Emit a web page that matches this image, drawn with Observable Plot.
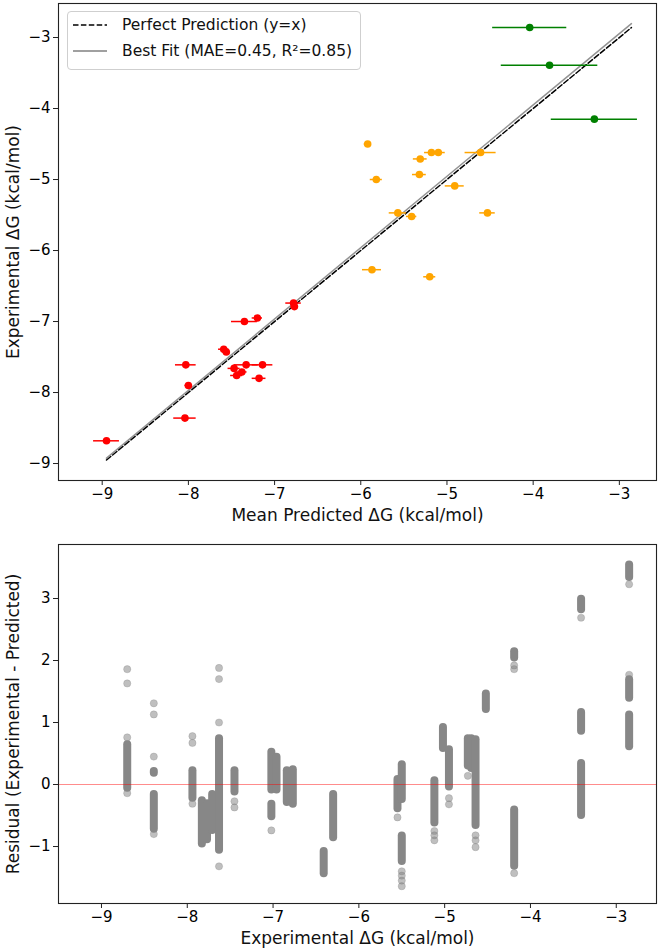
<!DOCTYPE html>
<html><head><meta charset="utf-8">
<script src="https://cdn.jsdelivr.net/npm/d3@7"></script>
<script src="https://cdn.jsdelivr.net/npm/@observablehq/plot@0.6"></script>
<style>
body{margin:0;background:#fff;font-family:"DejaVu Sans",sans-serif;}
#wrap{position:relative;width:661px;height:952px;}
svg{display:block}
#legend{position:absolute;left:67px;top:11px;border:1px solid #cfcfcf;border-radius:4px;background:rgba(255,255,255,0.85);padding:0 8px 5px 5px;font-size:15.5px;color:#111;}
#legend .row{display:flex;align-items:center;height:26px;white-space:nowrap;}
#legend svg{margin-right:15px;}
</style></head><body>
<div id="wrap">
<div id="top"></div>
<div id="bottom"></div>
<div id="legend">
 <div class="row"><svg width="34" height="10"><line x1="0" y1="5" x2="34" y2="5" stroke="#000" stroke-width="1.5" stroke-dasharray="5.5,2.4"/></svg><span>Perfect Prediction (y=x)</span></div>
 <div class="row"><svg width="34" height="10"><line x1="0" y1="5" x2="34" y2="5" stroke="#808080" stroke-width="1.5"/></svg><span>Best Fit (MAE=0.45, R²=0.85)</span></div>
</div>
</div>
<script>
// ---------- Top panel data (mean predicted vs experimental) ----------
const redPred = [-8.95,-8.04,-8.00,-8.03,-7.59,-7.56,-7.35,-7.20,-6.78,-6.77,-7.33,-7.14,-7.47,-7.38,-7.44,-7.18];
const redExp  = [-8.68,-8.36,-7.90,-7.61,-7.39,-7.43,-7.00,-6.95,-6.74,-6.79,-7.61,-7.61,-7.66,-7.71,-7.76,-7.80];
const redErr  = [0.15,0.13,0.04,0.12,0.06,0.04,0.15,0.06,0.09,0.04,0.14,0.12,0.07,0.06,0.07,0.08];

const orangePred = [-5.92,-5.82,-5.31,-5.18,-5.10,-5.32,-4.61,-4.91,-5.57,-5.41,-4.53,-5.87,-5.20];
const orangeExp  = [-4.50,-5.00,-4.71,-4.62,-4.62,-4.93,-4.62,-5.09,-5.47,-5.52,-5.47,-6.27,-6.37];
const orangeErr  = [0.04,0.07,0.08,0.08,0.08,0.08,0.18,0.11,0.10,0.06,0.09,0.11,0.07];

const greenPred = [-4.04,-3.81,-3.29];
const greenExp  = [-2.86,-3.39,-4.15];
const greenErr  = [0.43,0.56,0.50];

const fitSlope = 1.005;
const fitIntercept = 0.07;

const topTicksX = [-9,-8,-7,-6,-5,-4,-3];
const topTicksY = [-9,-8,-7,-6,-5,-4,-3];

// ---------- Bottom panel data (residuals per experimental value) ----------
const resStripX  = [-8.70,-8.39,-8.39,-7.94,-7.83,-7.77,-7.71,-7.63,-7.45,-7.02,-7.02,-6.96,-6.84,-6.77,-6.41,-6.30,-5.55,-5.50,-5.50,-5.12,-5.02,-4.95,-4.73,-4.69,-4.64,-4.52,-4.19,-4.19,-3.41,-3.41,-3.41,-2.85,-2.85,-2.85];
const resStripLo = [-0.06, 0.18,-0.72,-0.22,-0.96,-0.89,-0.74,-1.06,-0.12,-0.09,-0.52,-0.09,-0.29,-0.32,-1.44,-0.86,-0.39,-0.24,-1.24,-0.62, 0.58,-0.04, 0.30, 0.26,-0.66, 1.21,-1.32, 2.04, 2.82, 0.86,-0.50, 3.34, 1.39, 0.61];
const resStripHi = [ 0.64, 0.21,-0.16, 0.22,-0.26,-0.31,-0.16, 0.74, 0.22, 0.52,-0.32, 0.44, 0.22, 0.24,-1.08,-0.16, 0.08, 0.32,-0.83, 0.06, 0.92, 0.56, 0.74, 0.74, 0.72, 1.46,-0.41, 2.14, 2.99, 1.16, 0.34, 3.54, 1.69, 1.12];

const resDotX = [-8.70,-8.70,-8.70,-8.70,-8.39,-8.39,-8.39,-8.39,-7.94,-7.94,-7.94,-7.63,-7.63,-7.63,-7.63,-7.45,-7.45,-7.02,-5.55,-5.50,-5.50,-5.50,-5.50,-5.12,-5.12,-5.12,-4.95,-4.95,-4.73,-4.64,-4.64,-4.64,-4.19,-4.19,-4.19,-3.41,-2.85,-2.85];
const resDotY = [1.86,1.63,0.76,-0.14,1.31,1.13,0.45,-0.80,0.78,0.67,-0.31,1.88,1.70,1.00,-1.32,-0.27,-0.37,-0.74,-0.53,-1.40,-1.47,-1.55,-1.64,-0.75,-0.82,-0.90,-0.22,-0.32,0.14,-0.82,-0.90,-1.01,1.86,1.92,-1.43,2.69,3.23,1.77];

const resTicksX = [-9,-8,-7,-6,-5,-4,-3];
const resTicksY = [-1,0,1,2,3];

// ---------- Build tables ----------
function group(pred, exp, err, color) {
  return pred.map((p, i) => ({pred: p, exp: exp[i], err: err[i], color}));
}
const points = [
  ...group(redPred, redExp, redErr, "#ff0000"),
  ...group(orangePred, orangeExp, orangeErr, "#ffa500"),
  ...group(greenPred, greenExp, greenErr, "#008000")
];
const allVals = [...redPred, ...redExp, ...orangePred, ...orangeExp, ...greenPred, ...greenExp];
const ext = d3.extent(allVals);
const perfectLine = ext.map(v => ({x: v, y: v}));
const fitLine = ext.map(v => ({x: v, y: fitSlope * v + fitIntercept}));

const strips = resStripX.map((x, i) => ({x, lo: resStripLo[i], hi: resStripHi[i]}));
const dots = resDotX.map((x, i) => ({x, y: resDotY[i]}));

const fmt = d3.format("d");
const FONT = "DejaVu Sans";

const topPlot = Plot.plot({
  width: 661, height: 530,
  marginTop: 3, marginRight: 5, marginBottom: 50, marginLeft: 58,
  style: {fontFamily: FONT, fontSize: "15px", color: "#000", background: "#fff", overflow: "visible"},
  color: {type: "identity"},
  x: {domain: [-9.507, -2.569]},
  y: {domain: [-9.239, -2.521]},
  marks: [
    Plot.axisX({ticks: topTicksX, tickFormat: fmt, tickSize: 5, tickPadding: 3, fontSize: 15, label: null, stroke: "#222"}),
    Plot.axisY({ticks: topTicksY, tickFormat: fmt, tickSize: 5, tickPadding: 3, fontSize: 15, label: null, stroke: "#222"}),
    Plot.text(["Mean Predicted ΔG (kcal/mol)"], {frameAnchor: "bottom", dy: 28, lineAnchor: "top", textAnchor: "middle", fontSize: 17, fill: "#111"}),
    Plot.text(["Experimental ΔG (kcal/mol)"], {frameAnchor: "left", dx: -40, rotate: -90, lineAnchor: "bottom", textAnchor: "middle", fontSize: 17, fill: "#111"}),
    Plot.line(perfectLine, {x: "x", y: "y", stroke: "#000", strokeWidth: 1.5, strokeDasharray: "5.5,2.4"}),
    Plot.line(fitLine, {x: "x", y: "y", stroke: "#808080", strokeWidth: 1.5, strokeOpacity: 0.85}),
    Plot.ruleY(points, {y: "exp", x1: d => d.pred - d.err, x2: d => d.pred + d.err, stroke: "color", strokeWidth: 1.5}),
    Plot.dot(points, {x: "pred", y: "exp", fill: "color", r: 3.8}),
    Plot.frame({stroke: "#222", strokeWidth: 1.1})
  ]
});

const botPlot = Plot.plot({
  width: 661, height: 422,
  marginTop: 14, marginRight: 5, marginBottom: 49, marginLeft: 58,
  style: {fontFamily: FONT, fontSize: "15px", color: "#000", background: "#fff", overflow: "visible"},
  x: {domain: [-9.501, -2.531]},
  y: {domain: [-1.919, 3.871]},
  marks: [
    Plot.axisX({ticks: resTicksX, tickFormat: fmt, tickSize: 5, tickPadding: 3, fontSize: 15, label: null, stroke: "#222"}),
    Plot.axisY({ticks: resTicksY, tickFormat: fmt, tickSize: 5, tickPadding: 3, fontSize: 15, label: null, stroke: "#222"}),
    Plot.text(["Experimental ΔG (kcal/mol)"], {frameAnchor: "bottom", dy: 28, lineAnchor: "top", textAnchor: "middle", fontSize: 17, fill: "#111"}),
    Plot.text(["Residual (Experimental - Predicted)"], {frameAnchor: "left", dx: -40, rotate: -90, lineAnchor: "bottom", textAnchor: "middle", fontSize: 17, fill: "#111"}),
    Plot.dot(dots, {x: "x", y: "y", r: 3.6, fill: "#808080", fillOpacity: 0.5, stroke: "#808080", strokeOpacity: 0.35, strokeWidth: 0.8}),
    Plot.ruleX(strips, {x: "x", y1: "lo", y2: "hi", stroke: "#878787", strokeWidth: 8, strokeLinecap: "round"}),
    Plot.ruleY([0], {stroke: "#ff0000", strokeOpacity: 0.45, strokeWidth: 1}),
    Plot.frame({stroke: "#222", strokeWidth: 1.1})
  ]
});

document.getElementById("top").append(topPlot);
document.getElementById("bottom").append(botPlot);
</script>
</body></html>
